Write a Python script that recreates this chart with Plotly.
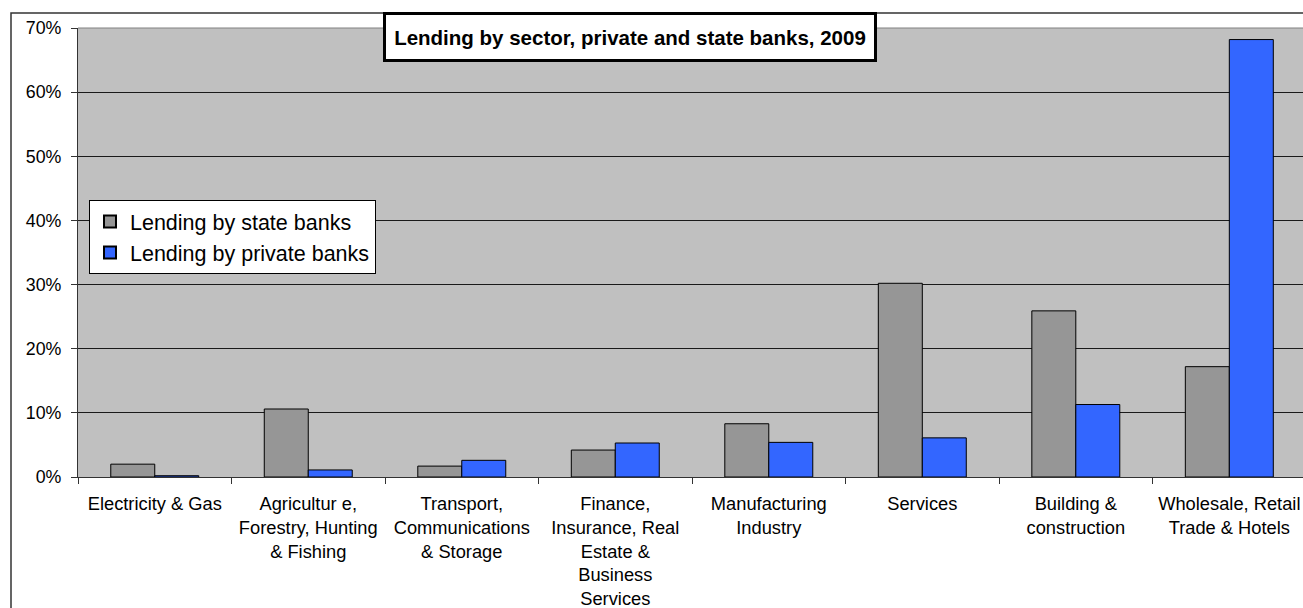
import plotly.graph_objects as go

# Sector labels (line breaks as drawn under the axis)
sectors = [
    "Electricity & Gas",
    "Agricultur e,<br>Forestry, Hunting<br>& Fishing",
    "Transport,<br>Communications<br>& Storage",
    "Finance,<br>Insurance, Real<br>Estate &<br>Business<br>Services",
    "Manufacturing<br>Industry",
    "Services",
    "Building &<br>construction",
    "Wholesale, Retail<br>Trade & Hotels",
]

# Share of lending by sector, in percent
state_banks = [2.0, 10.6, 1.7, 4.2, 8.3, 30.2, 25.9, 17.2]
private_banks = [0.2, 1.1, 2.6, 5.3, 5.4, 6.1, 11.3, 68.2]

y_ticks = [0, 10, 20, 30, 40, 50, 60, 70]
y_tick_text = [f"{v}%" for v in y_ticks]

FONT = "Liberation Sans, Arial, sans-serif"

fig = go.Figure()
fig.add_trace(go.Bar(
    name="Lending by state banks",
    x=sectors, y=state_banks,
    marker=dict(color="#969696", line=dict(color="#000000", width=1)),
))
fig.add_trace(go.Bar(
    name="Lending by private banks",
    x=sectors, y=private_banks,
    marker=dict(color="#3366FF", line=dict(color="#000000", width=1)),
))

W, H = 1303, 608
ML, MT, MB = 78, 28, 131
plot_w = W - ML
plot_h = H - MT - MB

fig.update_layout(
    width=W, height=H,
    margin=dict(l=ML, r=0, t=MT, b=MB, pad=0),
    paper_bgcolor="#FFFFFF",
    plot_bgcolor="#C0C0C0",
    barmode="group",
    bargap=0.427,
    bargroupgap=0,
    font=dict(family=FONT, color="#000000"),
    showlegend=True,
    legend=dict(
        x=(89 - ML) / plot_w, y=(H - MB - 200) / plot_h,
        xanchor="left", yanchor="top",
        bgcolor="#FFFFFF", bordercolor="#000000", borderwidth=1,
        font=dict(family=FONT, size=21.5, color="#000000"),
        tracegroupgap=0,
        itemwidth=30,
        itemsizing="constant",
    ),
    xaxis=dict(
        type="category",
        range=[-0.5, 7.48],
        tickson="boundaries",
        ticks="outside", ticklen=6, tickcolor="#333333", tickwidth=1,
        showline=True, linecolor="#333333", linewidth=1,
        showgrid=False,
        tickfont=dict(family=FONT, size=18.3, color="#000000"),
        ticklabeloverflow="allow",
        ticklabelstandoff=10,
    ),
    yaxis=dict(
        range=[0, 70],
        tickvals=y_ticks, ticktext=y_tick_text,
        ticks="outside", ticklen=6, tickcolor="#333333", tickwidth=1,
        showline=True, linecolor="#333333", linewidth=1,
        showgrid=True, gridcolor="#1A1A1A", gridwidth=1,
        zeroline=False,
        tickfont=dict(family=FONT, size=17.8, color="#000000"),
        ticklabelstandoff=6,
    ),
    shapes=[
        # outer chart frame
        dict(type="rect", xref="paper", yref="paper",
             x0=(11 - ML) / plot_w, x1=1.05,
             y0=-0.5, y1=(H - MB - 13) / plot_h,
             line=dict(color="#333333", width=1.5), fillcolor="rgba(0,0,0,0)",
             layer="below"),
        # top edge of the plot area
        dict(type="line", xref="paper", yref="paper",
             x0=0, x1=1, y0=1, y1=1,
             line=dict(color="#808080", width=1)),
    ],
    annotations=[
        dict(
            text="<b>Lending by sector, private and state banks, 2009</b>",
            xref="paper", yref="paper",
            x=(630 - ML) / plot_w, y=(H - MB - 37) / plot_h,
            xanchor="center", yanchor="middle",
            showarrow=False,
            font=dict(family=FONT, size=20.5, color="#000000"),
            bgcolor="#FFFFFF", bordercolor="#000000", borderwidth=3,
            width=484, height=40, borderpad=2,
        )
    ],
)

fig.write_html("out.html")
